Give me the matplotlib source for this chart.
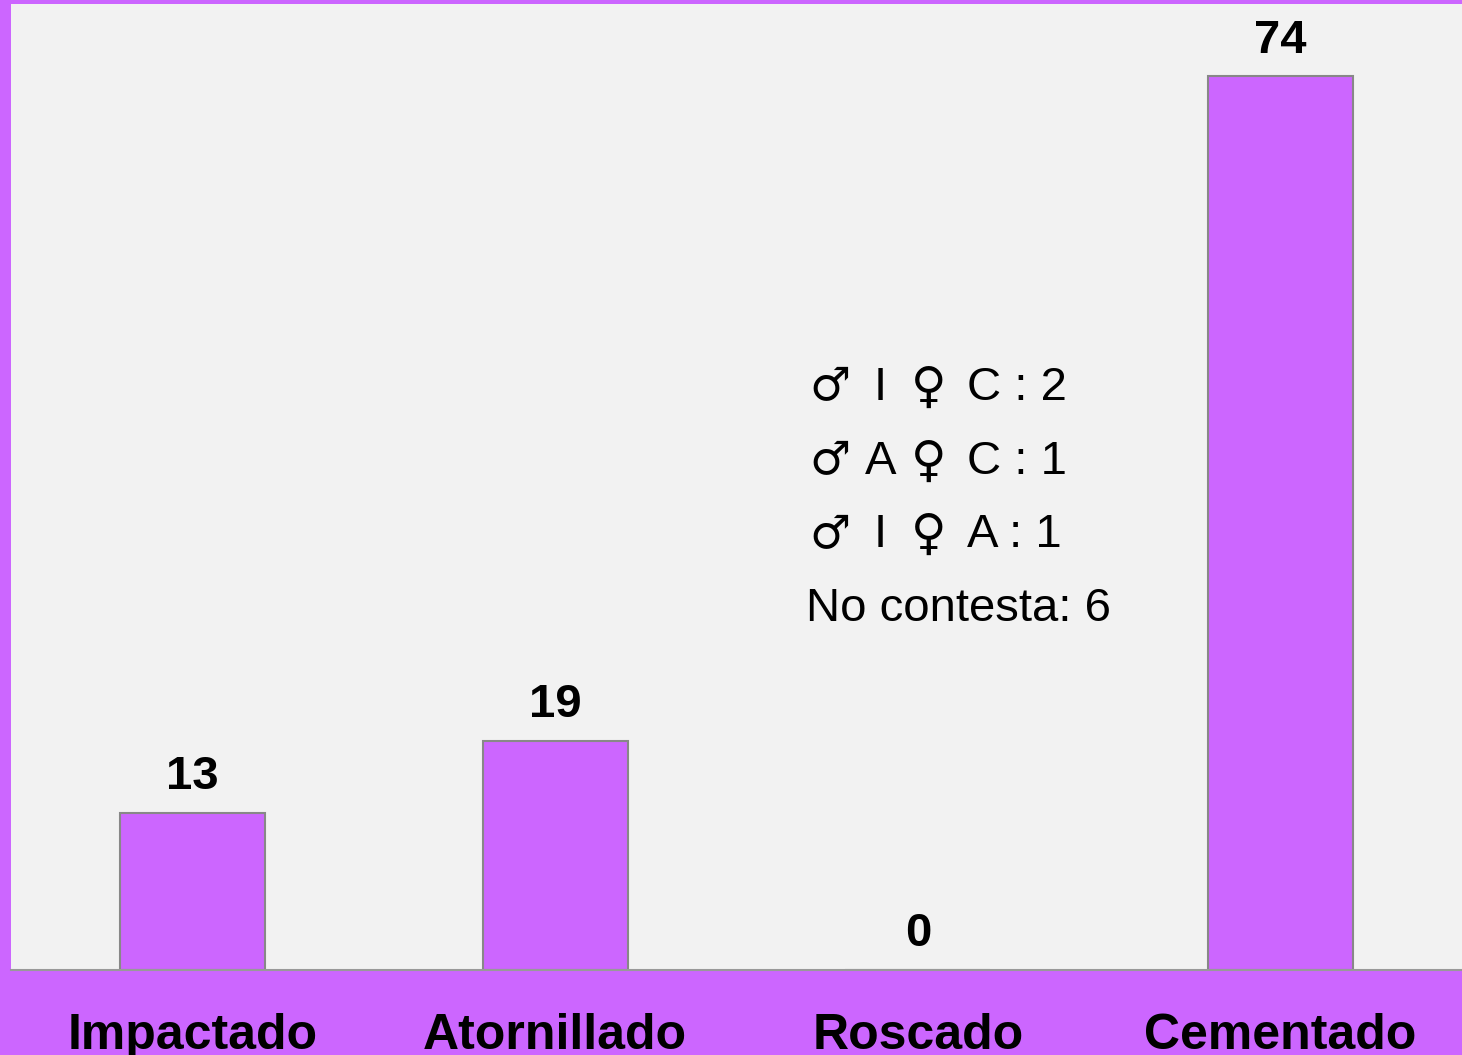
import matplotlib
matplotlib.use('Agg')
import matplotlib.pyplot as plt

categories = ['Impactado', 'Atornillado', 'Roscado', 'Cementado']
counts = [13, 19, 0, 74]
# each note row: male type, female type, count
note_male = ['I', 'A', 'I']
note_female = ['C', 'C', 'A']
note_counts = [2, 1, 1]
no_answer = 6

purple = '#cc66ff'
bg = '#f2f2f2'
fonts = ['Liberation Sans', 'DejaVu Sans']

fig = plt.figure(figsize=(14.62, 10.55), dpi=100)
fig.patch.set_facecolor(purple)
ax = fig.add_axes([11/1462, 85/1055, 1451/1462, 966/1055])
ax.set_facecolor(bg)

x = range(len(categories))
ax.bar(x, counts, width=0.4, color=purple, edgecolor='#888888', linewidth=1.5, zorder=2)
for xi, c in zip(x, counts):
    ax.annotate(str(c), (xi, c), xytext=(0, 10), textcoords='offset points',
                ha='center', va='bottom', fontsize=34, fontweight='bold', family=fonts)

ax.set_xlim(-0.5, 3.5)
ax.set_ylim(0, 80)
for s in ['top', 'left', 'right']:
    ax.spines[s].set_visible(False)
ax.spines['bottom'].set_color('#999999')
ax.spines['bottom'].set_linewidth(1.5)
ax.set_yticks([])
ax.set_xticks(list(x))
ax.set_xticklabels(categories, fontsize=36, fontweight='bold', family=fonts)
ax.tick_params(axis='x', length=0, pad=31)

# note block, column positions in data units
def px(p):
    return (p - 11) / 363 - 0.5

for i, (m, f, n) in enumerate(zip(note_male, note_female, note_counts)):
    yv = 48.2 - i * 6.1
    ax.text(px(810), yv, '\u2642', fontsize=33, family='DejaVu Sans', ha='left', va='center')
    ax.text(px(881), yv, m, fontsize=34, family=fonts, ha='center', va='center')
    ax.text(px(911), yv, '\u2640', fontsize=35, family='DejaVu Sans', fontweight='bold',
            ha='left', va='center')
    ax.text(px(968), yv, f'{f} : {n}', fontsize=34, family=fonts, ha='left', va='center')
ax.text(px(807), 48.2 - 3 * 6.1, f'No contesta: {no_answer}', fontsize=34, family=fonts,
        ha='left', va='center')

fig.savefig('out.png', dpi=100, facecolor=purple)
